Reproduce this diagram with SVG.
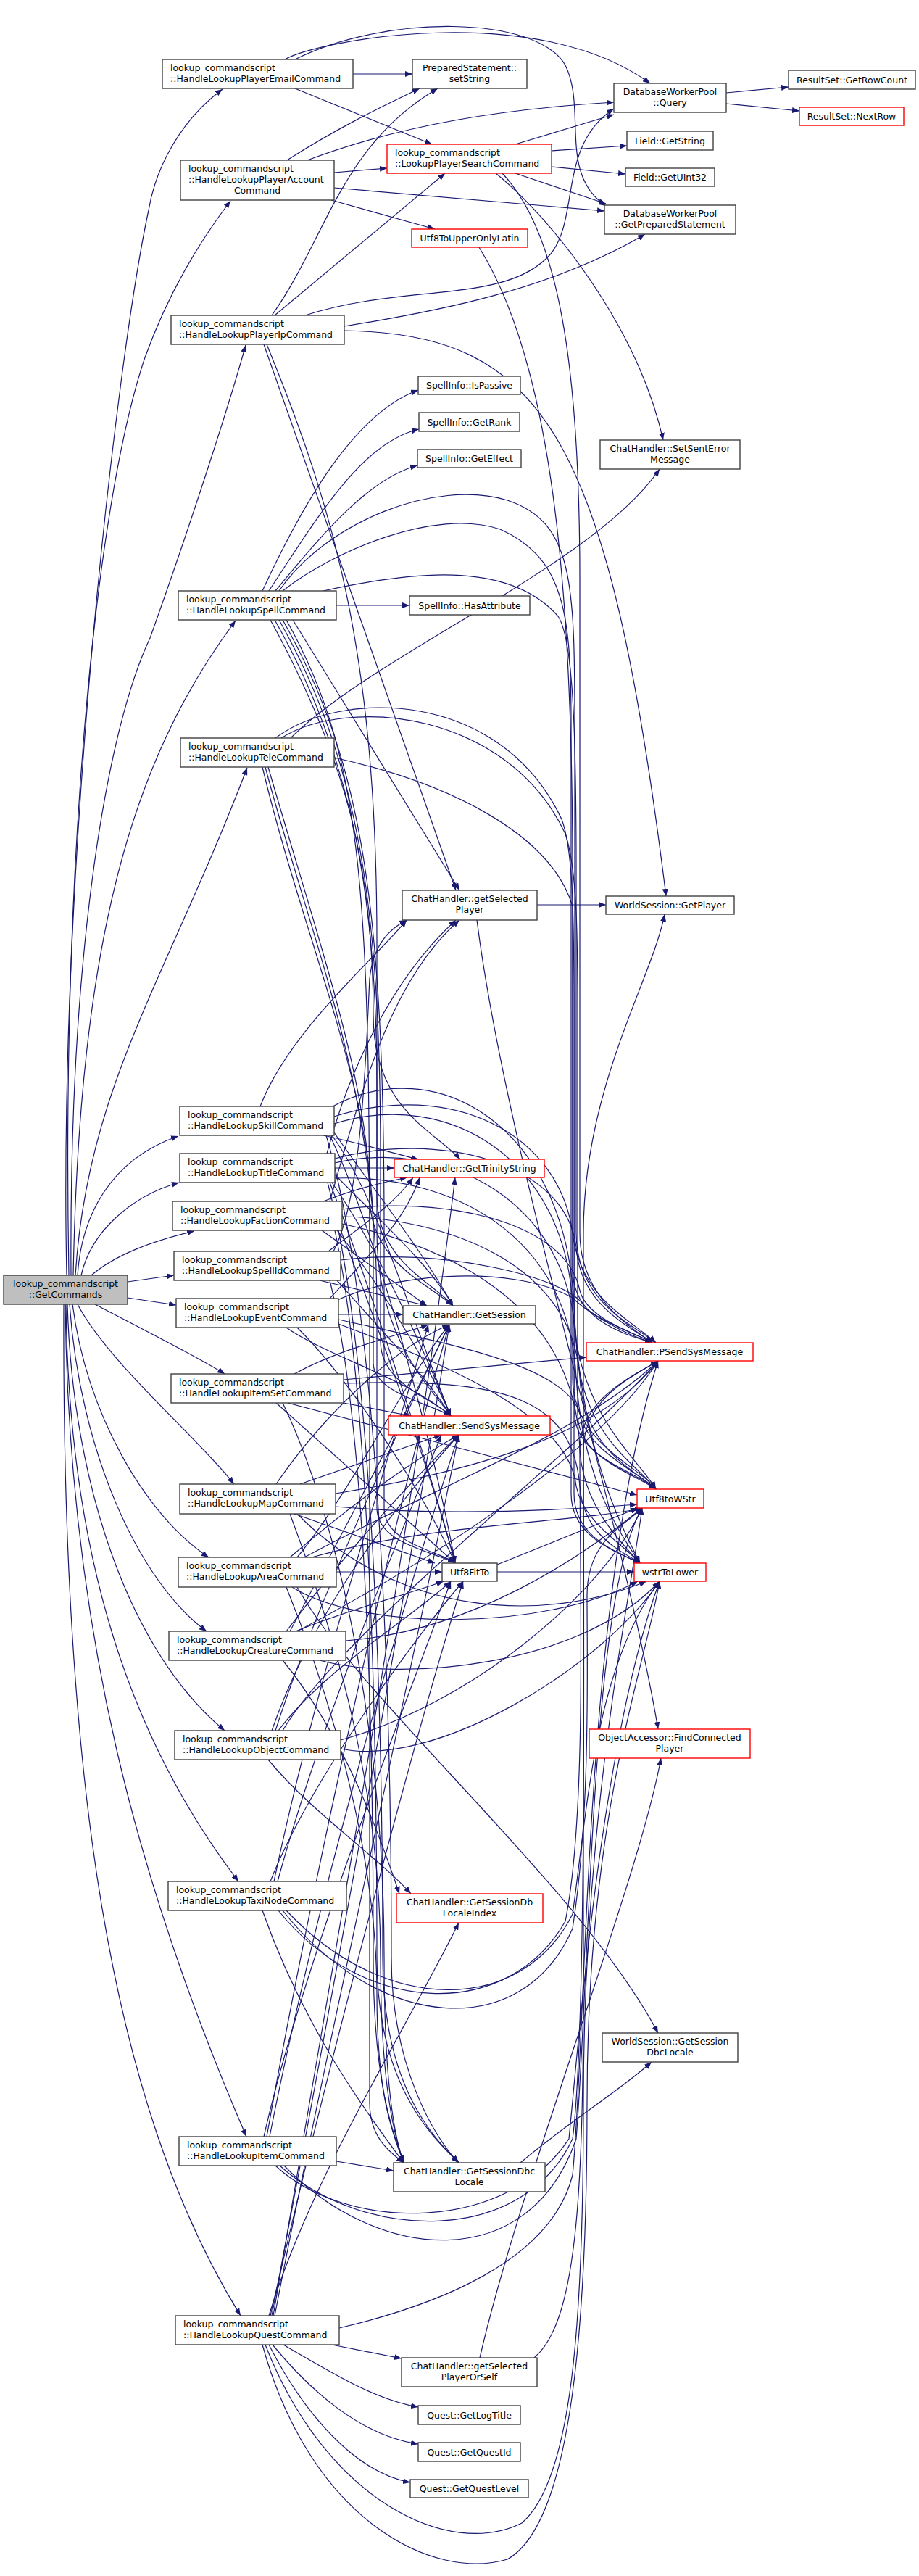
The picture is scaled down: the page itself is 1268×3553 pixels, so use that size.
<svg xmlns="http://www.w3.org/2000/svg" width="1268" height="3553" viewBox="0 0 1268 3553">
<style>
.n rect{fill:#fff;stroke:#404040;stroke-width:1.4}
.n.r rect{stroke:#ff0000}
.n.g rect{fill:#bfbfbf}
text{font-family:"DejaVu Sans",sans-serif;font-size:12.5px;fill:#000}
.c text{text-anchor:middle}
#edges path{fill:none;stroke:#191970;stroke-width:1.2;marker-end:url(#a)}
</style>
<defs>
<marker id="a" viewBox="0 0 10 8" refX="10" refY="4" markerWidth="10" markerHeight="8" markerUnits="userSpaceOnUse" orient="auto"><path d="M0,0L10,4L0,8z" fill="#191970"/></marker>
</defs>
<rect width="1268" height="3553" fill="#fff"/>
<g id="edges">
<path d="M92,1759 C80,1200 160,500 205,290 C215,230 250,165 307,123"/>
<path d="M95,1759 C85,1200 130,700 200,493 C230,410 270,340 318,277"/>
<path d="M98,1759 C95,1300 150,1000 207,880 C250,760 310,580 339,476"/>
<path d="M101,1759 C110,1300 180,1050 325,856"/>
<path d="M104,1759 C120,1500 230,1350 341,1059"/>
<path d="M107,1759 C112,1680 150,1600 246,1567"/>
<path d="M112,1759 C125,1700 180,1650 247,1631"/>
<path d="M126,1759 C160,1730 210,1712 268,1698"/>
<path d="M176,1768 L240,1759"/>
<path d="M176,1790 L243,1800"/>
<path d="M131,1799 C190,1830 270,1870 310,1895"/>
<path d="M107,1799 C150,1880 270,1980 323,2047"/>
<path d="M100,1799 C120,1950 200,2090 288,2148"/>
<path d="M96,1799 C110,2000 190,2180 285,2250"/>
<path d="M93,1799 C100,2050 180,2280 310,2387"/>
<path d="M91,1799 C95,2150 180,2400 329,2595"/>
<path d="M90,1799 C95,2250 190,2600 340,2947"/>
<path d="M88,1799 C85,2450 150,2900 332,3194"/>
<path d="M487,102 L569,102"/>
<path d="M407,122 L596,199"/>
<path d="M393,82 C440,55 740,0 897,115"/>
<path d="M407,82 C530,20 740,20 780,90 C810,150 770,240 836,284"/>
<path d="M396,221 C460,180 520,150 579,122"/>
<path d="M461,238 L534,232"/>
<path d="M457,276 L600,316"/>
<path d="M424,221 C560,170 700,150 847,141"/>
<path d="M461,259 L834,291"/>
<path d="M375,435 C450,330 470,200 604,122"/>
<path d="M379,435 L614,239"/>
<path d="M421,435 C560,390 700,420 760,350 C800,300 770,200 847,150"/>
<path d="M475,450 C600,430 760,400 890,323"/>
<path d="M475,456 C750,460 840,600 919,1236"/>
<path d="M364,475 L629,1228"/>
<path d="M368,475 C460,700 520,900 520,1300 L520,1700 C520,1850 600,1920 622,1953"/>
<path d="M711,199 L847,158"/>
<path d="M761,208 L865,201"/>
<path d="M761,230 L863,240"/>
<path d="M711,239 L836,281"/>
<path d="M684,239 C760,300 880,450 915,607"/>
<path d="M693,239 C770,320 800,500 800,800 L800,1700 C800,1790 870,1830 900,1852"/>
<path d="M661,341 C760,500 790,800 790,1200 L790,1900 C790,1990 880,2020 905,2054"/>
<path d="M1002,128 L1088,120"/>
<path d="M1002,143 L1103,153"/>
<path d="M362,815 C420,690 490,570 577,538"/>
<path d="M371,815 C440,710 500,610 578,592"/>
<path d="M380,815 C450,730 510,660 576,642"/>
<path d="M464,835 L565,835"/>
<path d="M446,815 C560,790 700,770 770,850 C790,880 795,1000 795,1200 L795,1700 C795,1800 880,1830 905,1852"/>
<path d="M385,815 C450,720 600,660 700,690 C790,720 793,800 793,1000 L793,1950 C793,2010 880,2030 905,2054"/>
<path d="M390,815 C460,760 600,700 690,730 C780,770 788,850 788,1000 L788,2060 C788,2120 850,2140 883,2156"/>
<path d="M404,855 L634,1228"/>
<path d="M373,855 C480,1050 515,1200 515,1400 C515,1530 600,1560 635,1599"/>
<path d="M379,855 C490,1050 520,1250 520,1500 L520,1650 C520,1740 600,1770 625,1801"/>
<path d="M385,855 C495,1050 525,1250 525,1600 L525,1850 C525,1910 600,1930 622,1953"/>
<path d="M390,855 C500,1050 530,1250 530,1700 L530,2080 C530,2130 610,2140 628,2156"/>
<path d="M395,855 C505,1050 510,1250 510,1800 L510,2900 C510,2950 540,2970 557,2983"/>
<path d="M401,1018 C520,900 820,780 910,647"/>
<path d="M461,1045 C620,1080 760,1150 790,1250 L790,1750 C790,1820 860,1840 900,1852"/>
<path d="M388,1018 C480,960 700,980 780,1150 C797,1200 797,1300 797,1400 L797,1950 C797,2010 870,2030 905,2054"/>
<path d="M380,1018 C470,950 690,950 775,1130 C790,1170 792,1250 792,1400 L792,2060 C792,2120 850,2140 883,2156"/>
<path d="M362,1058 C420,1300 515,1500 515,1700 L515,1880 C515,1920 590,1935 622,1953"/>
<path d="M366,1058 C430,1300 520,1500 520,1800 L520,2080 C520,2130 600,2140 628,2156"/>
<path d="M370,1058 C440,1300 510,1500 510,1650 C510,1740 590,1770 625,1801"/>
<path d="M359,1526 C400,1420 520,1320 561,1269"/>
<path d="M446,1566 C490,1575 540,1590 577,1599"/>
<path d="M461,1562 C500,1620 580,1720 625,1801"/>
<path d="M458,1566 C520,1650 560,1800 622,1953"/>
<path d="M455,1566 C520,1700 600,2000 628,2156"/>
<path d="M450,1566 C520,1800 540,2300 540,2700 C540,2850 600,2950 633,2983"/>
<path d="M461,1540 C620,1490 770,1560 790,1700 C800,1790 870,1820 905,1852"/>
<path d="M461,1550 C620,1500 780,1600 790,1800 C795,1950 880,2010 905,2054"/>
<path d="M459,1526 C600,1450 780,1550 792,1800 C800,2000 860,2110 883,2156"/>
<path d="M462,1611 L544,1611"/>
<path d="M451,1591 C480,1480 540,1350 629,1269"/>
<path d="M462,1620 C520,1680 590,1740 625,1801"/>
<path d="M458,1631 C520,1720 580,1850 622,1953"/>
<path d="M455,1631 C520,1800 600,2050 628,2156"/>
<path d="M452,1631 C510,1850 528,2300 528,2700 C528,2880 600,2950 633,2983"/>
<path d="M462,1598 C600,1560 780,1600 795,1720 C800,1800 870,1830 900,1852"/>
<path d="M462,1604 C610,1570 785,1650 795,1850 C800,1980 880,2020 905,2054"/>
<path d="M462,1625 C620,1620 785,1700 795,1900 C805,2050 860,2120 883,2156"/>
<path d="M446,1657 C490,1640 530,1630 562,1624"/>
<path d="M455,1657 C500,1500 540,1350 634,1269"/>
<path d="M444,1697 L589,1801"/>
<path d="M465,1697 C530,1780 590,1880 622,1953"/>
<path d="M470,1697 C530,1850 600,2050 628,2156"/>
<path d="M462,1697 C505,1900 520,2300 520,2700 C520,2880 600,2950 633,2983"/>
<path d="M472,1668 C600,1650 780,1680 800,1780 C810,1820 880,1840 900,1852"/>
<path d="M472,1678 C610,1680 790,1740 800,1900 C805,2000 880,2030 905,2054"/>
<path d="M472,1688 C620,1720 795,1800 800,2000 C805,2080 860,2130 883,2156"/>
<path d="M453,1726 C500,1690 545,1660 570,1624"/>
<path d="M441,1766 L589,1801"/>
<path d="M460,1726 C500,1650 505,1450 510,1350 C515,1300 540,1280 561,1269"/>
<path d="M465,1766 C530,1840 590,1900 622,1953"/>
<path d="M455,1766 C500,1950 515,2300 515,2700 C515,2880 545,2950 557,2983"/>
<path d="M470,1738 C600,1720 780,1760 805,1800 C820,1820 880,1840 900,1852"/>
<path d="M467,1813 L556,1813"/>
<path d="M455,1791 C520,1720 560,1680 579,1624"/>
<path d="M395,1831 C450,1870 560,1900 622,1953"/>
<path d="M410,1831 C480,1900 580,2050 628,2156"/>
<path d="M462,1795 C530,1760 700,1740 790,1790 C810,1810 860,1840 900,1852"/>
<path d="M467,1820 C600,1850 780,1880 800,1950 C810,2000 880,2030 905,2054"/>
<path d="M467,1826 C610,1880 785,1950 795,2050 C805,2100 860,2130 883,2156"/>
<path d="M474,1903 L809,1872"/>
<path d="M474,1935 L567,1953"/>
<path d="M397,1935 L879,2062"/>
<path d="M381,1935 L628,2156"/>
<path d="M406,1895 C470,1860 540,1845 591,1827"/>
<path d="M474,1908 C700,1900 790,1930 800,2050 C805,2120 860,2140 883,2156"/>
<path d="M390,1935 C470,2100 530,2400 530,2700 C530,2880 545,2950 557,2983"/>
<path d="M463,2078 C600,2090 750,2085 879,2075"/>
<path d="M463,2060 C650,2030 830,1980 908,1877"/>
<path d="M414,2047 L609,1979"/>
<path d="M381,2047 C440,1960 540,1860 620,1827"/>
<path d="M406,2088 L600,2156"/>
<path d="M410,2088 C550,2230 750,2240 892,2181"/>
<path d="M400,2088 C480,2300 525,2500 525,2700 C525,2880 545,2950 557,2983"/>
<path d="M464,2168 L610,2168"/>
<path d="M403,2189 C500,2250 750,2250 880,2181"/>
<path d="M400,2148 C480,2080 560,2020 633,1979"/>
<path d="M410,2148 C490,2050 560,1900 620,1827"/>
<path d="M420,2148 C600,2050 800,1980 908,1877"/>
<path d="M430,2148 C600,2100 800,2100 886,2080"/>
<path d="M395,2189 C480,2400 520,2600 520,2750 C520,2900 545,2950 557,2983"/>
<path d="M410,2189 C500,2350 800,2600 908,2804"/>
<path d="M408,2250 C480,2220 560,2200 612,2181"/>
<path d="M477,2263 C650,2250 800,2150 886,2080"/>
<path d="M441,2290 C550,2320 800,2300 910,2181"/>
<path d="M390,2290 C480,2400 530,2550 551,2612"/>
<path d="M395,2250 C470,2150 560,2050 633,1979"/>
<path d="M400,2250 C480,2100 560,1950 620,1827"/>
<path d="M410,2250 C600,2150 830,2000 908,1877"/>
<path d="M370,2427 C430,2500 520,2560 567,2612"/>
<path d="M384,2387 C450,2300 570,2230 622,2181"/>
<path d="M470,2400 C650,2350 830,2200 886,2080"/>
<path d="M470,2412 C600,2440 830,2300 910,2181"/>
<path d="M390,2387 C470,2250 800,2000 908,1877"/>
<path d="M380,2387 C440,2200 560,1950 620,1827"/>
<path d="M375,2387 C440,2200 570,2050 633,1979"/>
<path d="M362,2635 C420,2800 510,2920 557,2983"/>
<path d="M373,2595 C430,2450 580,2250 639,2181"/>
<path d="M378,2595 C440,2300 540,2000 591,1827"/>
<path d="M383,2595 C450,2350 560,2100 609,1979"/>
<path d="M384,2635 C500,2780 700,2790 780,2650 C810,2500 800,2200 800,2000 C800,1930 870,1900 908,1877"/>
<path d="M390,2635 C520,2800 720,2820 790,2660 C815,2500 810,2300 810,2200 C810,2120 870,2100 886,2080"/>
<path d="M395,2635 C530,2780 720,2780 790,2640 C810,2500 820,2300 910,2181"/>
<path d="M464,2981 L543,2994"/>
<path d="M364,2947 C420,2700 560,2350 622,2181"/>
<path d="M368,2947 C430,2600 540,2100 620,1827"/>
<path d="M372,2947 C440,2600 560,2200 633,1979"/>
<path d="M386,2987 C500,3090 720,3100 790,2950 C810,2800 805,2200 805,2000 C805,1930 870,1900 908,1877"/>
<path d="M392,2987 C520,3120 730,3140 795,2950 C815,2700 815,2200 886,2080"/>
<path d="M380,2987 C480,3080 700,3080 785,2950 C800,2800 830,2400 910,2181"/>
<path d="M458,3234 L554,3253"/>
<path d="M391,3234 C470,3280 520,3310 577,3320"/>
<path d="M376,3234 C430,3300 500,3360 577,3371"/>
<path d="M371,3234 C420,3330 490,3410 566,3424"/>
<path d="M371,3194 C430,3000 560,2800 633,2652"/>
<path d="M373,3194 C440,2900 570,2400 639,2181"/>
<path d="M375,3194 C450,2800 560,2200 620,1827"/>
<path d="M377,3194 C460,2700 570,2100 628,1624"/>
<path d="M379,3194 C455,2800 570,2300 633,1979"/>
<path d="M468,3211 C600,3180 760,3120 790,3000 C810,2800 805,2200 908,1877"/>
<path d="M366,3234 C450,3450 620,3530 720,3480 C790,3420 805,3200 805,2900 C805,2500 870,2200 886,2080"/>
<path d="M362,3234 C430,3480 600,3560 700,3530 C790,3480 810,3200 810,2900 C810,2500 890,2300 910,2181"/>
<path d="M662,3252 C720,3000 880,2600 912,2425"/>
<path d="M737,3252 C800,3200 805,3000 805,2700 L805,1700 C805,1500 900,1350 917,1261"/>
<path d="M741,1248 L836,1248"/>
<path d="M658,1269 C700,1600 860,2100 908,2385"/>
<path d="M686,2168 L875,2168"/>
<path d="M686,2158 L880,2080"/>
<path d="M718,2983 C780,2930 860,2880 899,2844"/>
</g>
<g id="n_getcommands" class="n g c"><rect x="5" y="1759" width="171" height="40"/><text x="90.5" y="1775">lookup_commandscript</text><text x="90.5" y="1790">::GetCommands</text></g>
<g id="n_email" class="n"><rect x="224" y="82" width="263" height="40"/><text x="235" y="98">lookup_commandscript</text><text x="235" y="113">::HandleLookupPlayerEmailCommand</text></g>
<g id="n_setstring" class="n c"><rect x="569" y="82" width="158" height="40"/><text x="648" y="98">PreparedStatement::</text><text x="648" y="113">setString</text></g>
<g id="n_query" class="n c"><rect x="847" y="115" width="155" height="40"/><text x="924.5" y="131">DatabaseWorkerPool</text><text x="924.5" y="146">::Query</text></g>
<g id="n_getrowcount" class="n c"><rect x="1088" y="97" width="175" height="26"/><text x="1175.5" y="114.5">ResultSet::GetRowCount</text></g>
<g id="n_nextrow" class="n r c"><rect x="1103" y="148" width="144" height="25"/><text x="1175" y="165">ResultSet::NextRow</text></g>
<g id="n_account" class="n"><rect x="249" y="221" width="212" height="55"/><text x="260" y="237">lookup_commandscript</text><text x="260" y="252">::HandleLookupPlayerAccount</text><text x="355" y="267" text-anchor="middle">Command</text></g>
<g id="n_lps" class="n r"><rect x="534" y="199" width="227" height="40"/><text x="545" y="215">lookup_commandscript</text><text x="545" y="230">::LookupPlayerSearchCommand</text></g>
<g id="n_getstring" class="n c"><rect x="865" y="181" width="119" height="26"/><text x="924.5" y="198.5">Field::GetString</text></g>
<g id="n_getuint32" class="n c"><rect x="863" y="232" width="123" height="25"/><text x="924.5" y="249">Field::GetUInt32</text></g>
<g id="n_gps" class="n c"><rect x="834" y="283" width="181" height="40"/><text x="924.5" y="299">DatabaseWorkerPool</text><text x="924.5" y="314">::GetPreparedStatement</text></g>
<g id="n_uul" class="n r c"><rect x="568" y="316" width="160" height="25"/><text x="648" y="333">Utf8ToUpperOnlyLatin</text></g>
<g id="n_ip" class="n"><rect x="236" y="435" width="239" height="40"/><text x="247" y="451">lookup_commandscript</text><text x="247" y="466">::HandleLookupPlayerIpCommand</text></g>
<g id="n_ispassive" class="n c"><rect x="577" y="519" width="141" height="25"/><text x="647.5" y="536">SpellInfo::IsPassive</text></g>
<g id="n_getrank" class="n c"><rect x="578" y="569" width="139" height="26"/><text x="647.5" y="586.5">SpellInfo::GetRank</text></g>
<g id="n_geteffect" class="n c"><rect x="576" y="620" width="143" height="25"/><text x="647.5" y="637">SpellInfo::GetEffect</text></g>
<g id="n_sse" class="n c"><rect x="828" y="607" width="193" height="40"/><text x="924.5" y="623">ChatHandler::SetSentError</text><text x="924.5" y="638">Message</text></g>
<g id="n_spell" class="n"><rect x="246" y="815" width="218" height="40"/><text x="257" y="831">lookup_commandscript</text><text x="257" y="846">::HandleLookupSpellCommand</text></g>
<g id="n_hasattribute" class="n c"><rect x="565" y="822" width="166" height="26"/><text x="648" y="839.5">SpellInfo::HasAttribute</text></g>
<g id="n_tele" class="n"><rect x="249" y="1018" width="212" height="40"/><text x="260" y="1034">lookup_commandscript</text><text x="260" y="1049">::HandleLookupTeleCommand</text></g>
<g id="n_getselectedplayer" class="n c"><rect x="555" y="1228" width="186" height="41"/><text x="648" y="1244">ChatHandler::getSelected</text><text x="648" y="1259">Player</text></g>
<g id="n_ws_getplayer" class="n c"><rect x="836" y="1236" width="177" height="25"/><text x="924.5" y="1253">WorldSession::GetPlayer</text></g>
<g id="n_skill" class="n"><rect x="248" y="1526" width="213" height="40"/><text x="259" y="1542">lookup_commandscript</text><text x="259" y="1557">::HandleLookupSkillCommand</text></g>
<g id="n_title" class="n"><rect x="248" y="1591" width="214" height="40"/><text x="259" y="1607">lookup_commandscript</text><text x="259" y="1622">::HandleLookupTitleCommand</text></g>
<g id="n_gettrinitystring" class="n r c"><rect x="544" y="1599" width="207" height="25"/><text x="647.5" y="1616">ChatHandler::GetTrinityString</text></g>
<g id="n_faction" class="n"><rect x="238" y="1657" width="234" height="40"/><text x="249" y="1673">lookup_commandscript</text><text x="249" y="1688">::HandleLookupFactionCommand</text></g>
<g id="n_spellid" class="n"><rect x="240" y="1726" width="230" height="40"/><text x="251" y="1742">lookup_commandscript</text><text x="251" y="1757">::HandleLookupSpellIdCommand</text></g>
<g id="n_event" class="n"><rect x="243" y="1791" width="224" height="40"/><text x="254" y="1807">lookup_commandscript</text><text x="254" y="1822">::HandleLookupEventCommand</text></g>
<g id="n_getsession" class="n c"><rect x="556" y="1801" width="183" height="25"/><text x="647.5" y="1818">ChatHandler::GetSession</text></g>
<g id="n_psendsysmessage" class="n r c"><rect x="809" y="1852" width="230" height="25"/><text x="924" y="1869">ChatHandler::PSendSysMessage</text></g>
<g id="n_itemset" class="n"><rect x="236" y="1895" width="238" height="40"/><text x="247" y="1911">lookup_commandscript</text><text x="247" y="1926">::HandleLookupItemSetCommand</text></g>
<g id="n_sendsysmessage" class="n r c"><rect x="536" y="1953" width="223" height="26"/><text x="647.5" y="1970.5">ChatHandler::SendSysMessage</text></g>
<g id="n_map" class="n"><rect x="248" y="2047" width="215" height="41"/><text x="259" y="2063">lookup_commandscript</text><text x="259" y="2078">::HandleLookupMapCommand</text></g>
<g id="n_utf8towstr" class="n r c"><rect x="879" y="2054" width="92" height="26"/><text x="925" y="2071.5">Utf8toWStr</text></g>
<g id="n_area" class="n"><rect x="246" y="2148" width="218" height="41"/><text x="257" y="2164">lookup_commandscript</text><text x="257" y="2179">::HandleLookupAreaCommand</text></g>
<g id="n_utf8fitto" class="n c"><rect x="610" y="2156" width="76" height="25"/><text x="648" y="2173">Utf8FitTo</text></g>
<g id="n_wstrtolower" class="n r c"><rect x="875" y="2156" width="99" height="25"/><text x="924.5" y="2173">wstrToLower</text></g>
<g id="n_creature" class="n"><rect x="233" y="2250" width="244" height="40"/><text x="244" y="2266">lookup_commandscript</text><text x="244" y="2281">::HandleLookupCreatureCommand</text></g>
<g id="n_object" class="n"><rect x="241" y="2387" width="229" height="40"/><text x="252" y="2403">lookup_commandscript</text><text x="252" y="2418">::HandleLookupObjectCommand</text></g>
<g id="n_findconnectedplayer" class="n r c"><rect x="813" y="2385" width="222" height="40"/><text x="924" y="2401">ObjectAccessor::FindConnected</text><text x="924" y="2416">Player</text></g>
<g id="n_taxinode" class="n"><rect x="232" y="2595" width="246" height="40"/><text x="243" y="2611">lookup_commandscript</text><text x="243" y="2626">::HandleLookupTaxiNodeCommand</text></g>
<g id="n_getsessiondblocaleindex" class="n r c"><rect x="547" y="2612" width="202" height="40"/><text x="648" y="2628">ChatHandler::GetSessionDb</text><text x="648" y="2643">LocaleIndex</text></g>
<g id="n_ws_getsessiondbclocale" class="n c"><rect x="831" y="2804" width="187" height="40"/><text x="924.5" y="2820">WorldSession::GetSession</text><text x="924.5" y="2835">DbcLocale</text></g>
<g id="n_item" class="n"><rect x="247" y="2947" width="217" height="40"/><text x="258" y="2963">lookup_commandscript</text><text x="258" y="2978">::HandleLookupItemCommand</text></g>
<g id="n_getsessiondbclocale" class="n c"><rect x="543" y="2983" width="209" height="40"/><text x="647.5" y="2999">ChatHandler::GetSessionDbc</text><text x="647.5" y="3014">Locale</text></g>
<g id="n_quest" class="n"><rect x="242" y="3194" width="226" height="40"/><text x="253" y="3210">lookup_commandscript</text><text x="253" y="3225">::HandleLookupQuestCommand</text></g>
<g id="n_getselectedplayerorself" class="n c"><rect x="554" y="3252" width="187" height="40"/><text x="647.5" y="3268">ChatHandler::getSelected</text><text x="647.5" y="3283">PlayerOrSelf</text></g>
<g id="n_getlogtitle" class="n c"><rect x="577" y="3318" width="141" height="26"/><text x="647.5" y="3335.5">Quest::GetLogTitle</text></g>
<g id="n_getquestid" class="n c"><rect x="577" y="3369" width="141" height="26"/><text x="647.5" y="3386.5">Quest::GetQuestId</text></g>
<g id="n_getquestlevel" class="n c"><rect x="566" y="3420" width="163" height="25"/><text x="647.5" y="3437">Quest::GetQuestLevel</text></g>
</svg>
